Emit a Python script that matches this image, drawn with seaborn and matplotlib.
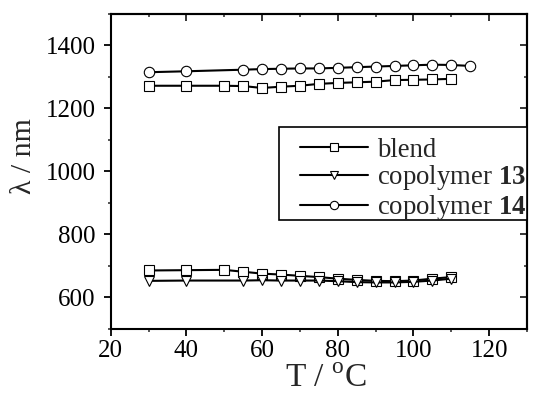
import matplotlib
matplotlib.use("Agg")
import matplotlib.pyplot as plt
import seaborn as sns
import pandas as pd
from matplotlib.lines import Line2D
from matplotlib.patches import Rectangle
from matplotlib.ticker import MultipleLocator

sns.set_theme(style="ticks")
plt.rcParams['font.family'] = ['Liberation Serif', 'DejaVu Serif']
plt.rcParams['mathtext.fontset'] = 'custom'
plt.rcParams['mathtext.rm'] = 'Liberation Serif'
plt.rcParams['mathtext.bf'] = 'Liberation Serif:bold'

# blend (squares)
blend_T = [30, 40, 50, 55, 60, 65, 70, 75, 80, 85, 90, 95, 100, 105, 110]
blend_hi = [1272, 1272, 1272, 1271, 1265, 1269, 1272, 1278, 1281, 1283, 1285, 1290, 1291, 1292, 1294]
blend_lo = [685, 686, 687, 681, 675, 672, 668, 664, 659, 655, 652, 651, 653, 659, 664]
# copolymer 13 (triangles)
cop13_T = [30, 40, 55, 60, 65, 70, 75, 80, 85, 90, 95, 100, 105, 110]
cop13 = [652, 653, 653, 654, 653, 653, 653, 651, 648, 647, 647, 649, 653, 659]
# copolymer 14 (circles)
cop14_T = [30, 40, 55, 60, 65, 70, 75, 80, 85, 90, 95, 100, 105, 110, 115]
cop14 = [1315, 1318, 1323, 1325, 1326, 1327, 1327, 1329, 1331, 1333, 1335, 1337, 1339, 1338, 1335]

labels = ['blend', 'copolymer $\\mathbf{13}$', 'copolymer $\\mathbf{14}$']

W, H = 547, 397
fig = plt.figure(figsize=(W / 100, H / 100), dpi=100)
ax = fig.add_axes([110.7 / W, 1 - 328.7 / H, (527 - 110.7) / W, (328.7 - 14) / H])

lw = 1.5
ms = 7.5
mew = 0.8
kw = dict(color='black', linewidth=lw, markersize=ms, markerfacecolor='white',
          markeredgecolor='black', markeredgewidth=mew, ax=ax, legend=False)

sns.lineplot(x=blend_T, y=blend_hi, marker='s', **kw)
sns.lineplot(x=blend_T, y=blend_lo, marker='s', **kw)
sns.lineplot(x=cop13_T, y=cop13, marker='v', **kw)
sns.lineplot(x=cop14_T, y=cop14, marker='o', **kw)

ax.set_xlim(20, 130)
ax.set_ylim(500, 1500)
ax.xaxis.set_major_locator(MultipleLocator(20))
ax.xaxis.set_minor_locator(MultipleLocator(10))
ax.yaxis.set_major_locator(MultipleLocator(200))
ax.yaxis.set_minor_locator(MultipleLocator(100))

for s in ax.spines.values():
    s.set_linewidth(1.5)
    s.set_color('black')

ax.tick_params(which='major', direction='out', length=5, width=1.3, labelsize=18, colors='black')
ax.tick_params(axis='y', which='major', pad=6)
ax.tick_params(axis='x', which='major', pad=3)
ax.tick_params(which='minor', direction='out', length=2.5, width=1.1)

# inward ticks on top and right
sx = ax.secondary_xaxis('top')
sx.xaxis.set_major_locator(MultipleLocator(20))
sx.xaxis.set_minor_locator(MultipleLocator(10))
sx.tick_params(which='major', direction='in', length=5, width=1.3, labeltop=False)
sx.tick_params(which='minor', direction='in', length=2.5, width=1.1)
sx.spines['top'].set_linewidth(1.5)
sy = ax.secondary_yaxis('right')
sy.yaxis.set_major_locator(MultipleLocator(200))
sy.yaxis.set_minor_locator(MultipleLocator(100))
sy.tick_params(which='major', direction='in', length=5, width=1.3, labelright=False)
sy.tick_params(which='minor', direction='in', length=2.5, width=1.1)
sy.spines['right'].set_linewidth(1.5)

ax.set_xlabel('T / $^{\\rm o}$C', fontsize=24)
ax.xaxis.set_label_coords(0.517, -0.11)
ax.set_ylabel('λ / nm', fontsize=21.5)
ax.yaxis.set_label_coords(-0.178, 0.549)

# legend frame (runs up to the right spine)
ax.add_patch(Rectangle((0.404, 0.3454), 0.596, 0.2955, transform=ax.transAxes,
                       facecolor='white', edgecolor='black', linewidth=1.2, zorder=4,
                       clip_on=False))

handles = [
    Line2D([], [], color='black', lw=lw, marker='s', markersize=ms, markerfacecolor='white', markeredgecolor='black', markeredgewidth=mew),
    Line2D([], [], color='black', lw=lw, marker='v', markersize=ms, markerfacecolor='white', markeredgecolor='black', markeredgewidth=mew),
    Line2D([], [], color='black', lw=lw, marker='o', markersize=ms, markerfacecolor='white', markeredgecolor='black', markeredgewidth=mew),
]
leg = ax.legend(handles, labels, loc='upper left', bbox_to_anchor=(0.4547, 0.607),
                borderaxespad=0, frameon=False, fontsize=19.3,
                handlelength=2.54, handletextpad=0.34, labelspacing=0.03,
                borderpad=0, markerscale=0.8)
leg.set_zorder(5)

fig.savefig('out.png', dpi=100)
